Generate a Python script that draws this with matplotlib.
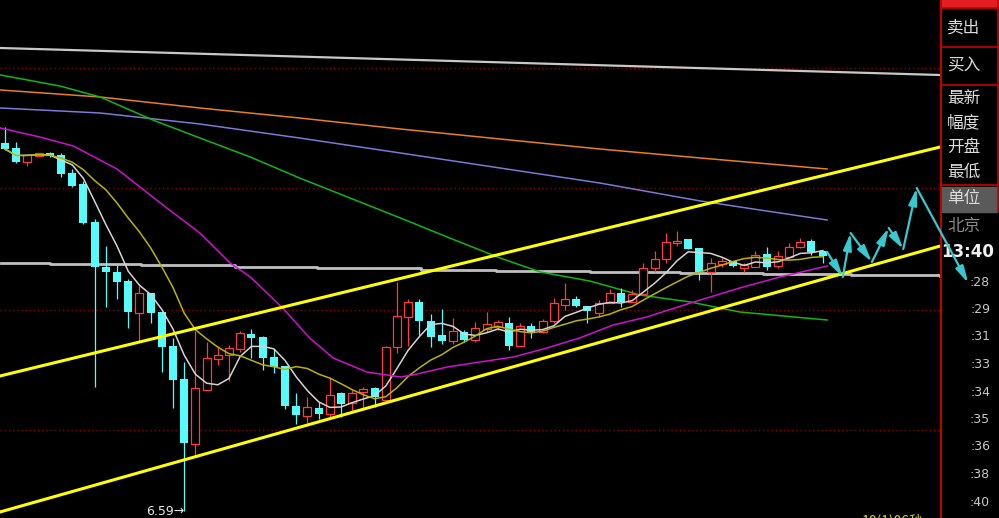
import matplotlib.pyplot as plt
import numpy as np
import pandas as pd
from matplotlib.patches import Rectangle

plt.rcParams['font.family'] = ['Noto Sans CJK SC', 'DejaVu Sans']

# candles (price)
opens = [8.062, 8.042, 7.986, 8.010, 8.022, 8.014, 7.942, 7.898, 7.746, 7.566,
         7.546, 7.510, 7.382, 7.462, 7.386, 7.250, 7.118, 6.858, 7.074, 7.198,
         7.214, 7.238, 7.298, 7.286, 7.206, 7.170, 7.010, 6.970, 7.002, 6.978,
         7.062, 7.022, 7.066, 7.082, 7.034, 7.246, 7.366, 7.426, 7.350, 7.294,
         7.270, 7.306, 7.274, 7.318, 7.326, 7.342, 7.250, 7.330, 7.306, 7.350,
         7.414, 7.438, 7.410, 7.382, 7.422, 7.462, 7.426, 7.458, 7.562, 7.598,
         7.662, 7.678, 7.642, 7.546, 7.578, 7.590, 7.562, 7.566, 7.618, 7.570,
         7.606, 7.646, 7.670, 7.630]
highs = [8.126, 8.066, 8.014, 8.022, 8.026, 8.022, 7.958, 7.910, 7.758, 7.650,
         7.574, 7.518, 7.490, 7.462, 7.386, 7.282, 7.186, 7.310, 7.266, 7.250,
         7.254, 7.310, 7.318, 7.290, 7.238, 7.170, 7.062, 7.046, 7.026, 7.126,
         7.066, 7.074, 7.086, 7.086, 7.250, 7.506, 7.438, 7.438, 7.378, 7.398,
         7.362, 7.314, 7.346, 7.386, 7.354, 7.366, 7.342, 7.342, 7.358, 7.442,
         7.502, 7.450, 7.410, 7.434, 7.478, 7.482, 7.474, 7.582, 7.630, 7.702,
         7.710, 7.678, 7.642, 7.602, 7.602, 7.590, 7.582, 7.630, 7.646, 7.630,
         7.662, 7.682, 7.678, 7.634]
lows = [8.034, 7.982, 7.970, 8.010, 8.006, 7.926, 7.886, 7.738, 7.086, 7.406,
        7.438, 7.322, 7.270, 7.342, 7.146, 7.002, 6.590, 6.814, 7.074, 7.174,
        7.110, 7.226, 7.202, 7.154, 7.142, 6.998, 6.938, 6.942, 6.958, 6.962,
        6.966, 6.986, 6.994, 7.006, 7.022, 7.222, 7.250, 7.294, 7.246, 7.258,
        7.258, 7.266, 7.266, 7.306, 7.314, 7.234, 7.250, 7.282, 7.302, 7.342,
        7.394, 7.406, 7.342, 7.366, 7.422, 7.406, 7.426, 7.458, 7.546, 7.582,
        7.650, 7.638, 7.514, 7.466, 7.566, 7.566, 7.546, 7.566, 7.554, 7.562,
        7.602, 7.642, 7.614, 7.582]
closes = [8.038, 7.986, 8.014, 8.022, 8.010, 7.938, 7.890, 7.742, 7.566, 7.546,
          7.506, 7.386, 7.462, 7.382, 7.246, 7.114, 6.862, 7.082, 7.202, 7.214,
          7.242, 7.302, 7.282, 7.202, 7.166, 7.010, 6.974, 7.006, 6.978, 7.054,
          7.018, 7.062, 7.078, 7.046, 7.246, 7.370, 7.426, 7.350, 7.286, 7.270,
          7.310, 7.274, 7.322, 7.338, 7.346, 7.250, 7.330, 7.302, 7.350, 7.422,
          7.438, 7.410, 7.390, 7.422, 7.462, 7.426, 7.458, 7.562, 7.598, 7.666,
          7.670, 7.638, 7.546, 7.582, 7.590, 7.570, 7.574, 7.614, 7.566, 7.610,
          7.646, 7.666, 7.626, 7.610]

# long averages, sampled (bar index, price)
ma20_x = [-0.4, 3.1, 6.1, 10.0, 14.1, 17.4, 20.1, 21.9, 24.8, 27.2, 29.3, 32.3, 35.3,
          36.4, 39.5, 42.4, 45.4, 48.4, 51.3, 54.3, 57.3, 61.2, 65.6, 69.2, 73.4]
ma20_y = [8.122, 8.086, 8.050, 7.958, 7.814, 7.702, 7.582, 7.526, 7.402, 7.282, 7.202,
          7.146, 7.126, 7.134, 7.166, 7.186, 7.206, 7.242, 7.282, 7.334, 7.366, 7.422,
          7.482, 7.526, 7.570]
green_x = [-0.4, 4.9, 8.5, 13.2, 17.4, 21.9, 26.3, 30.8, 35.3, 39.7, 44.2, 47.8, 52.2,
           56.7, 61.2, 65.6, 73.4]
green_y = [8.334, 8.290, 8.246, 8.154, 8.082, 8.006, 7.922, 7.842, 7.762, 7.682, 7.602,
           7.546, 7.510, 7.454, 7.426, 7.386, 7.354]
blue_x = [-0.4, 8.5, 17.4, 26.3, 35.3, 44.2, 53.1, 62.1, 67.4, 73.4]
blue_y = [8.202, 8.182, 8.138, 8.082, 8.022, 7.962, 7.902, 7.830, 7.794, 7.754]
orange_x = [-0.4, 8.5, 17.4, 26.3, 35.3, 44.2, 53.1, 62.1, 73.4]
orange_y = [8.274, 8.246, 8.202, 8.162, 8.118, 8.078, 8.038, 8.002, 7.958]
gray_top_x = [-0.4, 83.5]
gray_top_y = [8.442, 8.334]
gray_mid_x = [-0.4, 4.0, 12.1, 20.5, 27.9, 37.1, 43.8, 52.2, 60.3, 67.7, 75.5, 83.5]
gray_mid_y = [7.582, 7.578, 7.574, 7.568, 7.562, 7.554, 7.550, 7.546, 7.544, 7.540,
              7.534, 7.532]

# channel lines (bar index, price)
chan_x = [-0.45, 83.5]
chan_upper = [7.130, 8.046]
chan_lower = [6.586, 7.650]

# projected path
proj_x = [73.4, 74.8, 75.5, 77.4, 78.9, 80.2, 81.4, 86.0]
proj_y = [7.626, 7.526, 7.702, 7.586, 7.722, 7.638, 7.882, 7.502]

grid_levels = [8.362, 7.882, 7.394, 6.914]

panel_labels = ['卖出', '买入', '最新', '幅度', '开盘', '最低', '单位', '北京']
time_labels = [':28', ':29', ':31', ':33', ':34', ':35', ':36', ':38', ':40']
last_time = '13:40'
footer = '10(1)06秒'

RED = '#ff3c3c'
CYAN = '#54fcfc'
W, H = 999, 518

fig = plt.figure(figsize=(W / 100, H / 100), dpi=100, facecolor='black')
ax = fig.add_axes([0, 0, 940 / W, 1], zorder=1)
ax.set_xlim(-0.446, 83.48)
ax.set_ylim(6.562, 8.634)
ax.axis('off')

for g in grid_levels:
    ax.axhline(g, color='#8c0000', lw=1, ls=(0, (1, 2)), zorder=0.5)

ax.plot(gray_top_x, gray_top_y, color='#c8c8c8', lw=1.6, zorder=1)
ax.plot(gray_mid_x, gray_mid_y, color='#c0c0c0', lw=2.0, drawstyle='steps-post', zorder=1)
ax.plot(orange_x, orange_y, color='#e8801e', lw=1.1, zorder=1)
ax.plot(blue_x, blue_y, color='#7a7ad8', lw=1.1, zorder=1)
ax.plot(green_x, green_y, color='#10b810', lw=1.1, zorder=1)

idx = np.arange(len(closes))
o, h, l, c = (np.array(v) for v in (opens, highs, lows, closes))
up = c >= o
ax.vlines(idx[up], l[up], h[up], color=RED, lw=0.9, zorder=2)
ax.vlines(idx[~up], l[~up], h[~up], color=CYAN, lw=0.9, zorder=2)
ax.bar(idx[up], (c - o)[up], bottom=o[up], width=0.72, facecolor='black',
       edgecolor=RED, lw=0.9, zorder=2.5)
ax.bar(idx[~up], (o - c)[~up], bottom=c[~up], width=0.72, color=CYAN, zorder=2.5)

s = pd.Series(closes)
ax.plot(idx, s.rolling(5, min_periods=1).mean(), color='#d4d4d4', lw=1.1, zorder=3)
ax.plot(idx, s.rolling(10, min_periods=1).mean(), color='#b8b400', lw=1.1, zorder=3)
ax.plot(ma20_x, ma20_y, color='#d010d0', lw=1.1, zorder=3)

ax.plot(chan_x, chan_upper, color='#ffff00', lw=2.2, zorder=4)
ax.plot(chan_x, chan_lower, color='#ffff00', lw=2.2, zorder=4)

for k in range(len(proj_x) - 1):
    ax.annotate('', xy=(proj_x[k + 1], proj_y[k + 1]), xytext=(proj_x[k], proj_y[k]),
                annotation_clip=False, zorder=6,
                arrowprops=dict(arrowstyle='-|>,head_length=1.0,head_width=0.25',
                                color='#38c8d0', lw=1.6, mutation_scale=10,
                                shrinkA=0, shrinkB=0))

lo_i = int(np.argmin(l))
ax.text(lo_i, l[lo_i] - 0.002, f'{l[lo_i]:.2f}→', color='#e8e8e8', fontsize=9,
        ha='right', va='center', family='DejaVu Sans', zorder=5)

# right-hand panel
pax = fig.add_axes([940 / W, 0, 59 / W, 1], zorder=0)
pax.set_xlim(940, 999)
pax.set_ylim(518, 0)
pax.axis('off')
pax.add_patch(Rectangle((942, 0), 57, 7, color='#e02020'))
pax.add_patch(Rectangle((942, 187), 55, 25, color='#5a5a5a'))
pax.axvline(940.8, color='#c80000', lw=1.4)
pax.vlines(998, 0, 212, color='#c80000', lw=1.2)
pax.hlines([8, 47, 85, 185], 940, 999, color='#c80000', lw=1.2)

label_y = [28, 66, 98, 123, 147, 172, 199, 226]
for txt, yy in zip(panel_labels, label_y):
    col = '#8a8a8a' if txt == '北京' else '#dcdcdc'
    pax.text(947, yy, txt, color=col, fontsize=12, ha='left', va='center')
pax.text(994, 252, last_time, color='#f0f0f0', fontsize=12, fontweight='bold',
         ha='right', va='center', family='DejaVu Sans')
for txt, yy in zip(time_labels, np.linspace(282, 502, len(time_labels))):
    pax.text(990, yy, txt, color='#c8c8c8', fontsize=9, ha='right', va='center',
             family='DejaVu Sans')

# footer is clipped by the bottom edge, as in the source screen
fig.text(862 / W, 5 / H, footer, color='#d8d800', fontsize=10, ha='left', va='top')

fig.savefig('out.png', dpi=100, facecolor='black')
